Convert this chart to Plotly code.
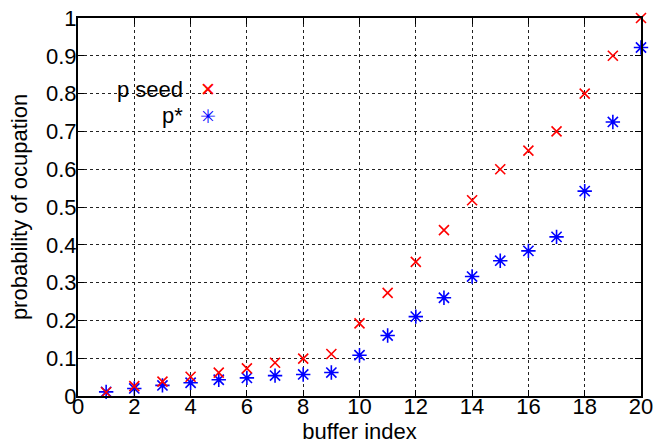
import plotly.graph_objects as go

buffer_index = list(range(1, 21))
p_seed = [0.010, 0.026, 0.038, 0.051, 0.062, 0.073, 0.088, 0.099, 0.111, 0.192,
          0.273, 0.355, 0.439, 0.518, 0.600, 0.649, 0.700, 0.800, 0.900, 1.000]
p_star = [0.011, 0.020, 0.028, 0.035, 0.043, 0.048, 0.054, 0.057, 0.062, 0.108,
          0.160, 0.210, 0.260, 0.316, 0.358, 0.384, 0.421, 0.542, 0.725, 0.922]
x_ticks = list(range(0, 21, 2))
y_ticks = [round(0.1 * i, 1) for i in range(11)]
y_tick_labels = ["0", "0.1", "0.2", "0.3", "0.4", "0.5", "0.6", "0.7", "0.8", "0.9", "1"]
legend_labels = ["p seed", "p*"]

FONT = "Liberation Sans, Arial, sans-serif"

fig = go.Figure()
fig.add_trace(go.Scatter(
    x=buffer_index, y=p_star, mode="markers", name=legend_labels[1],
    marker=dict(symbol="asterisk-open", size=12, color="blue",
                line=dict(color="blue", width=1.6)),
    cliponaxis=False, showlegend=False))
fig.add_trace(go.Scatter(
    x=buffer_index, y=p_seed, mode="markers", name=legend_labels[0],
    marker=dict(symbol="x-thin-open", size=10, color="red",
                line=dict(color="red", width=1.6)),
    cliponaxis=False, showlegend=False))

axis_common = dict(
    showline=True, linecolor="black", linewidth=2, mirror="ticks",
    ticks="inside", ticklen=6, tickcolor="black", tickwidth=1,
    showgrid=True, gridcolor="#222222", gridwidth=1, griddash="3px,3px",
    zeroline=False, tickfont=dict(family=FONT, size=22, color="black"),
    automargin=False,
)

fig.update_xaxes(range=[0, 20], tickvals=x_ticks, ticklabelstandoff=-10,
                 title=dict(text="buffer index", font=dict(family=FONT, size=22, color="black"),
                            standoff=0),
                 **axis_common)
fig.update_yaxes(range=[0, 1], tickvals=y_ticks, ticktext=y_tick_labels, ticklabelstandoff=-5,
                 title=dict(text="probability of ocupation",
                            font=dict(family=FONT, size=22, color="black"), standoff=12),
                 **axis_common)

# legend box (white, hides gridlines)
fig.add_shape(type="rect", xref="paper", yref="paper", x0=0.039, x1=0.297, y0=0.659, y1=0.876,
              fillcolor="white", line=dict(width=0), layer="between")

legend_rows = [(legend_labels[0], "✕", "red", 0.812), (legend_labels[1], "✳", "blue", 0.741)]
for label, glyph, col, yy in legend_rows:
    fig.add_annotation(xref="paper", yref="paper", x=0.190, y=yy, text=label,
                       showarrow=False, xanchor="right", yanchor="middle",
                       font=dict(family=FONT, size=22, color="black"))
    fig.add_annotation(xref="paper", yref="paper", x=0.231, y=yy, text=glyph,
                       showarrow=False, xanchor="center", yanchor="middle",
                       font=dict(family="DejaVu Sans", size=19, color=col))

fig.update_layout(
    width=657, height=445,
    margin=dict(l=78, r=16, t=18, b=49),
    paper_bgcolor="white", plot_bgcolor="white",
    font=dict(family=FONT, color="black"),
)

fig.write_html("out.html", config={"displayModeBar": False},
               post_script="document.body.style.margin='0';document.body.style.overflow='hidden';")
